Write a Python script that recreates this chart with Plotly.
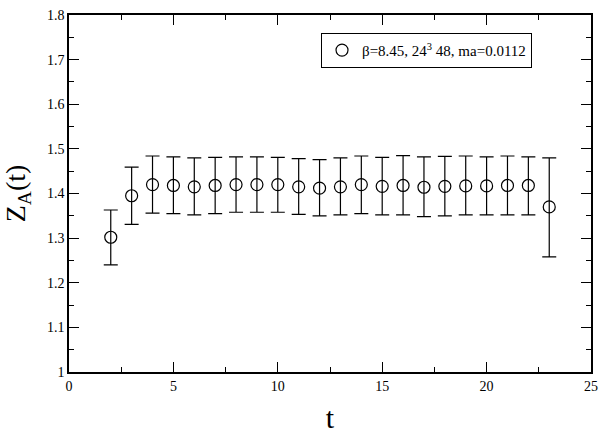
import plotly.graph_objects as go

# Z_A(t) data
t_vals = [2, 3, 4, 5, 6, 7, 8, 9, 10, 11, 12, 13, 14, 15, 16, 17, 18, 19, 20, 21, 22, 23]
za_vals = [1.302, 1.395, 1.420, 1.418, 1.415, 1.418, 1.420, 1.420, 1.420, 1.415, 1.412,
           1.415, 1.420, 1.416, 1.418, 1.414, 1.416, 1.417, 1.417, 1.418, 1.418, 1.370]
err_plus = [0.061, 0.064, 0.064, 0.064, 0.065, 0.063, 0.062, 0.062, 0.061, 0.063, 0.064,
            0.065, 0.064, 0.065, 0.067, 0.068, 0.067, 0.067, 0.065, 0.066, 0.064, 0.110]
err_minus = [0.062, 0.064, 0.064, 0.063, 0.063, 0.063, 0.062, 0.062, 0.062, 0.062, 0.062,
             0.063, 0.065, 0.064, 0.066, 0.066, 0.066, 0.065, 0.065, 0.066, 0.066, 0.112]
legend_label = "β=8.45, 24<sup>3</sup> 48, ma=0.0112"

FONT = "Liberation Serif"

fig = go.Figure()
fig.add_trace(go.Scatter(
    x=t_vals, y=za_vals, mode="markers", name=legend_label,
    marker=dict(symbol="circle-open", size=12, color="black", line=dict(width=1.2)),
    error_y=dict(type="data", symmetric=False, array=err_plus, arrayminus=err_minus,
                 color="black", thickness=1.2, width=7),
))

axis_common = dict(
    showgrid=False, zeroline=False, showline=True, linecolor="black", linewidth=1.5,
    mirror="allticks", ticks="inside", ticklen=10, tickwidth=1, tickcolor="black",
    tickfont=dict(family=FONT, size=14, color="black"), automargin=False,
)

fig.update_layout(
    width=599, height=434,
    margin=dict(l=69, r=8, t=15, b=62),
    font=dict(family=FONT, color="black"),
    paper_bgcolor="white", plot_bgcolor="white",
    showlegend=True,
    legend=dict(x=0.887, y=0.95, xanchor="right", yanchor="top",
                bordercolor="black", borderwidth=1, bgcolor="white",
                font=dict(family=FONT, size=15, color="black")),
)
fig.update_xaxes(range=[0, 25], dtick=5,
                 minor=dict(dtick=2.5, ticks="inside", ticklen=5, tickcolor="black"),
                 title=dict(text="t", font=dict(family=FONT, size=30, color="black"), standoff=20),
                 **axis_common)
fig.update_yaxes(range=[1, 1.8], dtick=0.1,
                 minor=dict(dtick=0.05, ticks="inside", ticklen=5, tickcolor="black"),
                 title=dict(text="Z<sub>A</sub>(t)", font=dict(family=FONT, size=28, color="black"), standoff=16),
                 **axis_common)

# page body has a default 8px margin; drop it so the figure sits at the window corner
fig.write_html("out.html", config={"displayModeBar": False},
               post_script="document.body.style.margin='0';")
